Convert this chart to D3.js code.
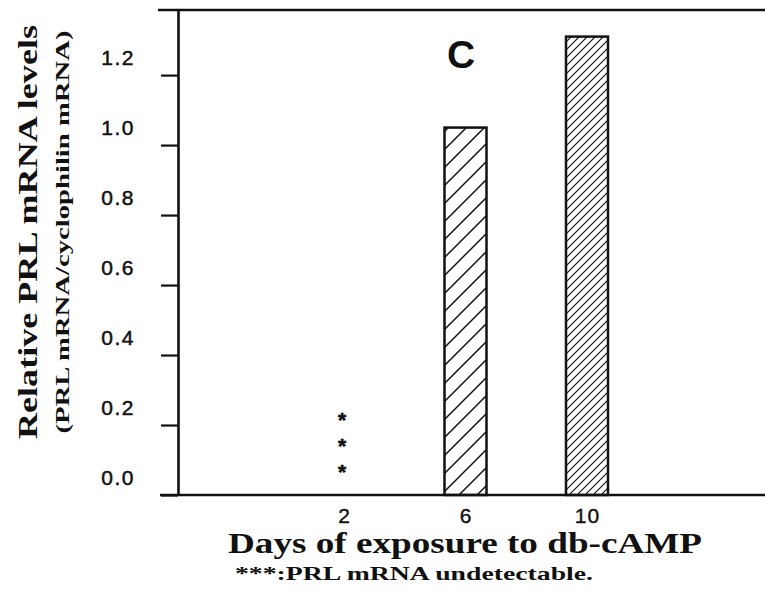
<!DOCTYPE html>
<html>
<head>
<meta charset="utf-8">
<script src="https://cdn.jsdelivr.net/npm/d3@7"></script>
<style>
  html, body { margin: 0; padding: 0; background: #fff; }
  svg { display: block; }
</style>
</head>
<body>
<div id="chart"></div>
<script>
// ---- data ----
const categories = ["2", "6", "10"];          // days of exposure to db-cAMP
const values = [0, 1.05, 1.31];                // relative PRL mRNA levels
const detectable = [false, true, true];
const hatchDensity = ["none", "sparse", "dense"];
const yTickValues = [0.0, 0.2, 0.4, 0.6, 0.8, 1.0, 1.2];
const yTickLabels = ["0.0", "0.2", "0.4", "0.6", "0.8", "1.0", "1.2"];
const yAxisTop = 1.386;
const undetectableMarkLevels = [0.23, 0.155, 0.08];
const panelLabel = "C";
const yTitle = "Relative PRL mRNA levels";
const ySubtitle = "(PRL mRNA/cyclophilin mRNA)";
const xTitle = "Days of exposure to db-cAMP";
const footnote = "***:PRL mRNA undetectable.";

// ---- layout ----
const W = 765, H = 597;
const axisX = 178, baseY = 495, topY = 10;
const serif = "'Liberation Serif', 'Times New Roman', serif";
const sans = "'Liberation Sans', Arial, sans-serif";

const svg = d3.select("#chart").append("svg")
  .attr("width", W).attr("height", H);

const x = d3.scalePoint().domain(categories).range([344, 587]);
const y = d3.scaleLinear().domain([0, yAxisTop]).range([baseY, topY]);
const barW = 42;

// hatch patterns
const defs = svg.append("defs");
function hatch(id, s, sw) {
  const p = defs.append("pattern").attr("id", id)
    .attr("patternUnits", "userSpaceOnUse")
    .attr("width", s).attr("height", s);
  p.append("rect").attr("width", s).attr("height", s).attr("fill", "#fff");
  p.append("path")
    .attr("d", `M0,${s} L${s},0 M${-s/4},${s/4} L${s/4},${-s/4} M${3*s/4},${5*s/4} L${5*s/4},${3*s/4}`)
    .attr("stroke", "#111").attr("stroke-width", sw);
}
hatch("hatch-sparse", 18, 1.5);
hatch("hatch-dense", 8, 1.2);

// top frame line
svg.append("line")
  .attr("x1", 158).attr("x2", W).attr("y1", y(yAxisTop)).attr("y2", y(yAxisTop))
  .attr("stroke", "#111").attr("stroke-width", 2.5);

// y axis
const yAxis = d3.axisLeft(y).tickValues(yTickValues)
  .tickFormat((d, i) => yTickLabels[i])
  .tickSize(17).tickPadding(26).tickSizeOuter(0);
const gy = svg.append("g").attr("transform", `translate(${axisX},0)`).call(yAxis);
gy.select(".domain").attr("stroke", "#111").attr("stroke-width", 2.6);
gy.selectAll(".tick line").attr("stroke", "#111").attr("stroke-width", 2.2);
gy.selectAll(".tick text")
  .attr("dy", "-0.5em")
  .attr("fill", "#111")
  .attr("stroke", "#111").attr("stroke-width", 0.5)
  .style("font-family", sans)
  .style("font-size", "21px")
  .style("letter-spacing", "1.5px");

// bars
svg.append("g").selectAll("rect")
  .data(categories.map((c, i) => ({ c, v: values[i], ok: detectable[i], h: hatchDensity[i] })).filter(d => d.ok))
  .join("rect")
  .attr("x", d => x(d.c) - barW / 2)
  .attr("width", barW)
  .attr("y", d => y(d.v))
  .attr("height", d => y(0) - y(d.v))
  .attr("fill", d => `url(#hatch-${d.h})`)
  .attr("stroke", "#111")
  .attr("stroke-width", 2.5);

// baseline
svg.append("line")
  .attr("x1", 160).attr("x2", W).attr("y1", y(0)).attr("y2", y(0))
  .attr("stroke", "#111").attr("stroke-width", 2.6);

// x axis labels
const xAxis = d3.axisBottom(x).tickSize(0).tickPadding(13);
const gx = svg.append("g").attr("transform", `translate(0,${y(0)})`).call(xAxis);
gx.select(".domain").remove();
gx.selectAll(".tick text")
  .attr("fill", "#111")
  .attr("stroke", "#111").attr("stroke-width", 0.4)
  .style("font-family", sans)
  .style("font-size", "21px")
  .style("letter-spacing", "1px");

// undetectable asterisks at day 2
categories.forEach((c, i) => {
  if (!detectable[i]) {
    svg.append("g").selectAll("text")
      .data(undetectableMarkLevels)
      .join("text")
      .attr("x", x(c) - 2)
      .attr("y", d => y(d) + 12)
      .attr("text-anchor", "middle")
      .attr("fill", "#111")
      .attr("stroke", "#111").attr("stroke-width", 0.6)
      .style("font-family", sans)
      .style("font-weight", "bold")
      .style("font-size", "21px")
      .text("*");
  }
});

// panel label
svg.append("text")
  .attr("x", 461).attr("y", 68)
  .attr("text-anchor", "middle")
  .attr("fill", "#111")
  .style("font-family", sans)
  .style("font-weight", "bold")
  .style("font-size", "39px")
  .text(panelLabel);

// y titles
svg.append("text")
  .attr("transform", "translate(37,232) rotate(-90)")
  .attr("text-anchor", "middle")
  .attr("fill", "#111")
  .attr("textLength", 414).attr("lengthAdjust", "spacingAndGlyphs")
  .style("font-family", serif)
  .style("font-weight", "bold")
  .style("font-size", "28px")
  .text(yTitle);

svg.append("text")
  .attr("transform", "translate(69,232) rotate(-90)")
  .attr("text-anchor", "middle")
  .attr("fill", "#111")
  .attr("textLength", 403).attr("lengthAdjust", "spacingAndGlyphs")
  .style("font-family", serif)
  .style("font-weight", "bold")
  .style("font-size", "19px")
  .text(ySubtitle);

// x title
svg.append("text")
  .attr("x", 228).attr("y", 553)
  .attr("fill", "#111")
  .attr("textLength", 474).attr("lengthAdjust", "spacingAndGlyphs")
  .style("font-family", serif)
  .style("font-weight", "bold")
  .style("font-size", "29px")
  .text(xTitle);

// footnote
svg.append("text")
  .attr("x", 235).attr("y", 580)
  .attr("fill", "#111")
  .attr("textLength", 358).attr("lengthAdjust", "spacingAndGlyphs")
  .style("font-family", serif)
  .style("font-weight", "bold")
  .style("font-size", "19px")
  .text(footnote);
</script>
</body>
</html>
